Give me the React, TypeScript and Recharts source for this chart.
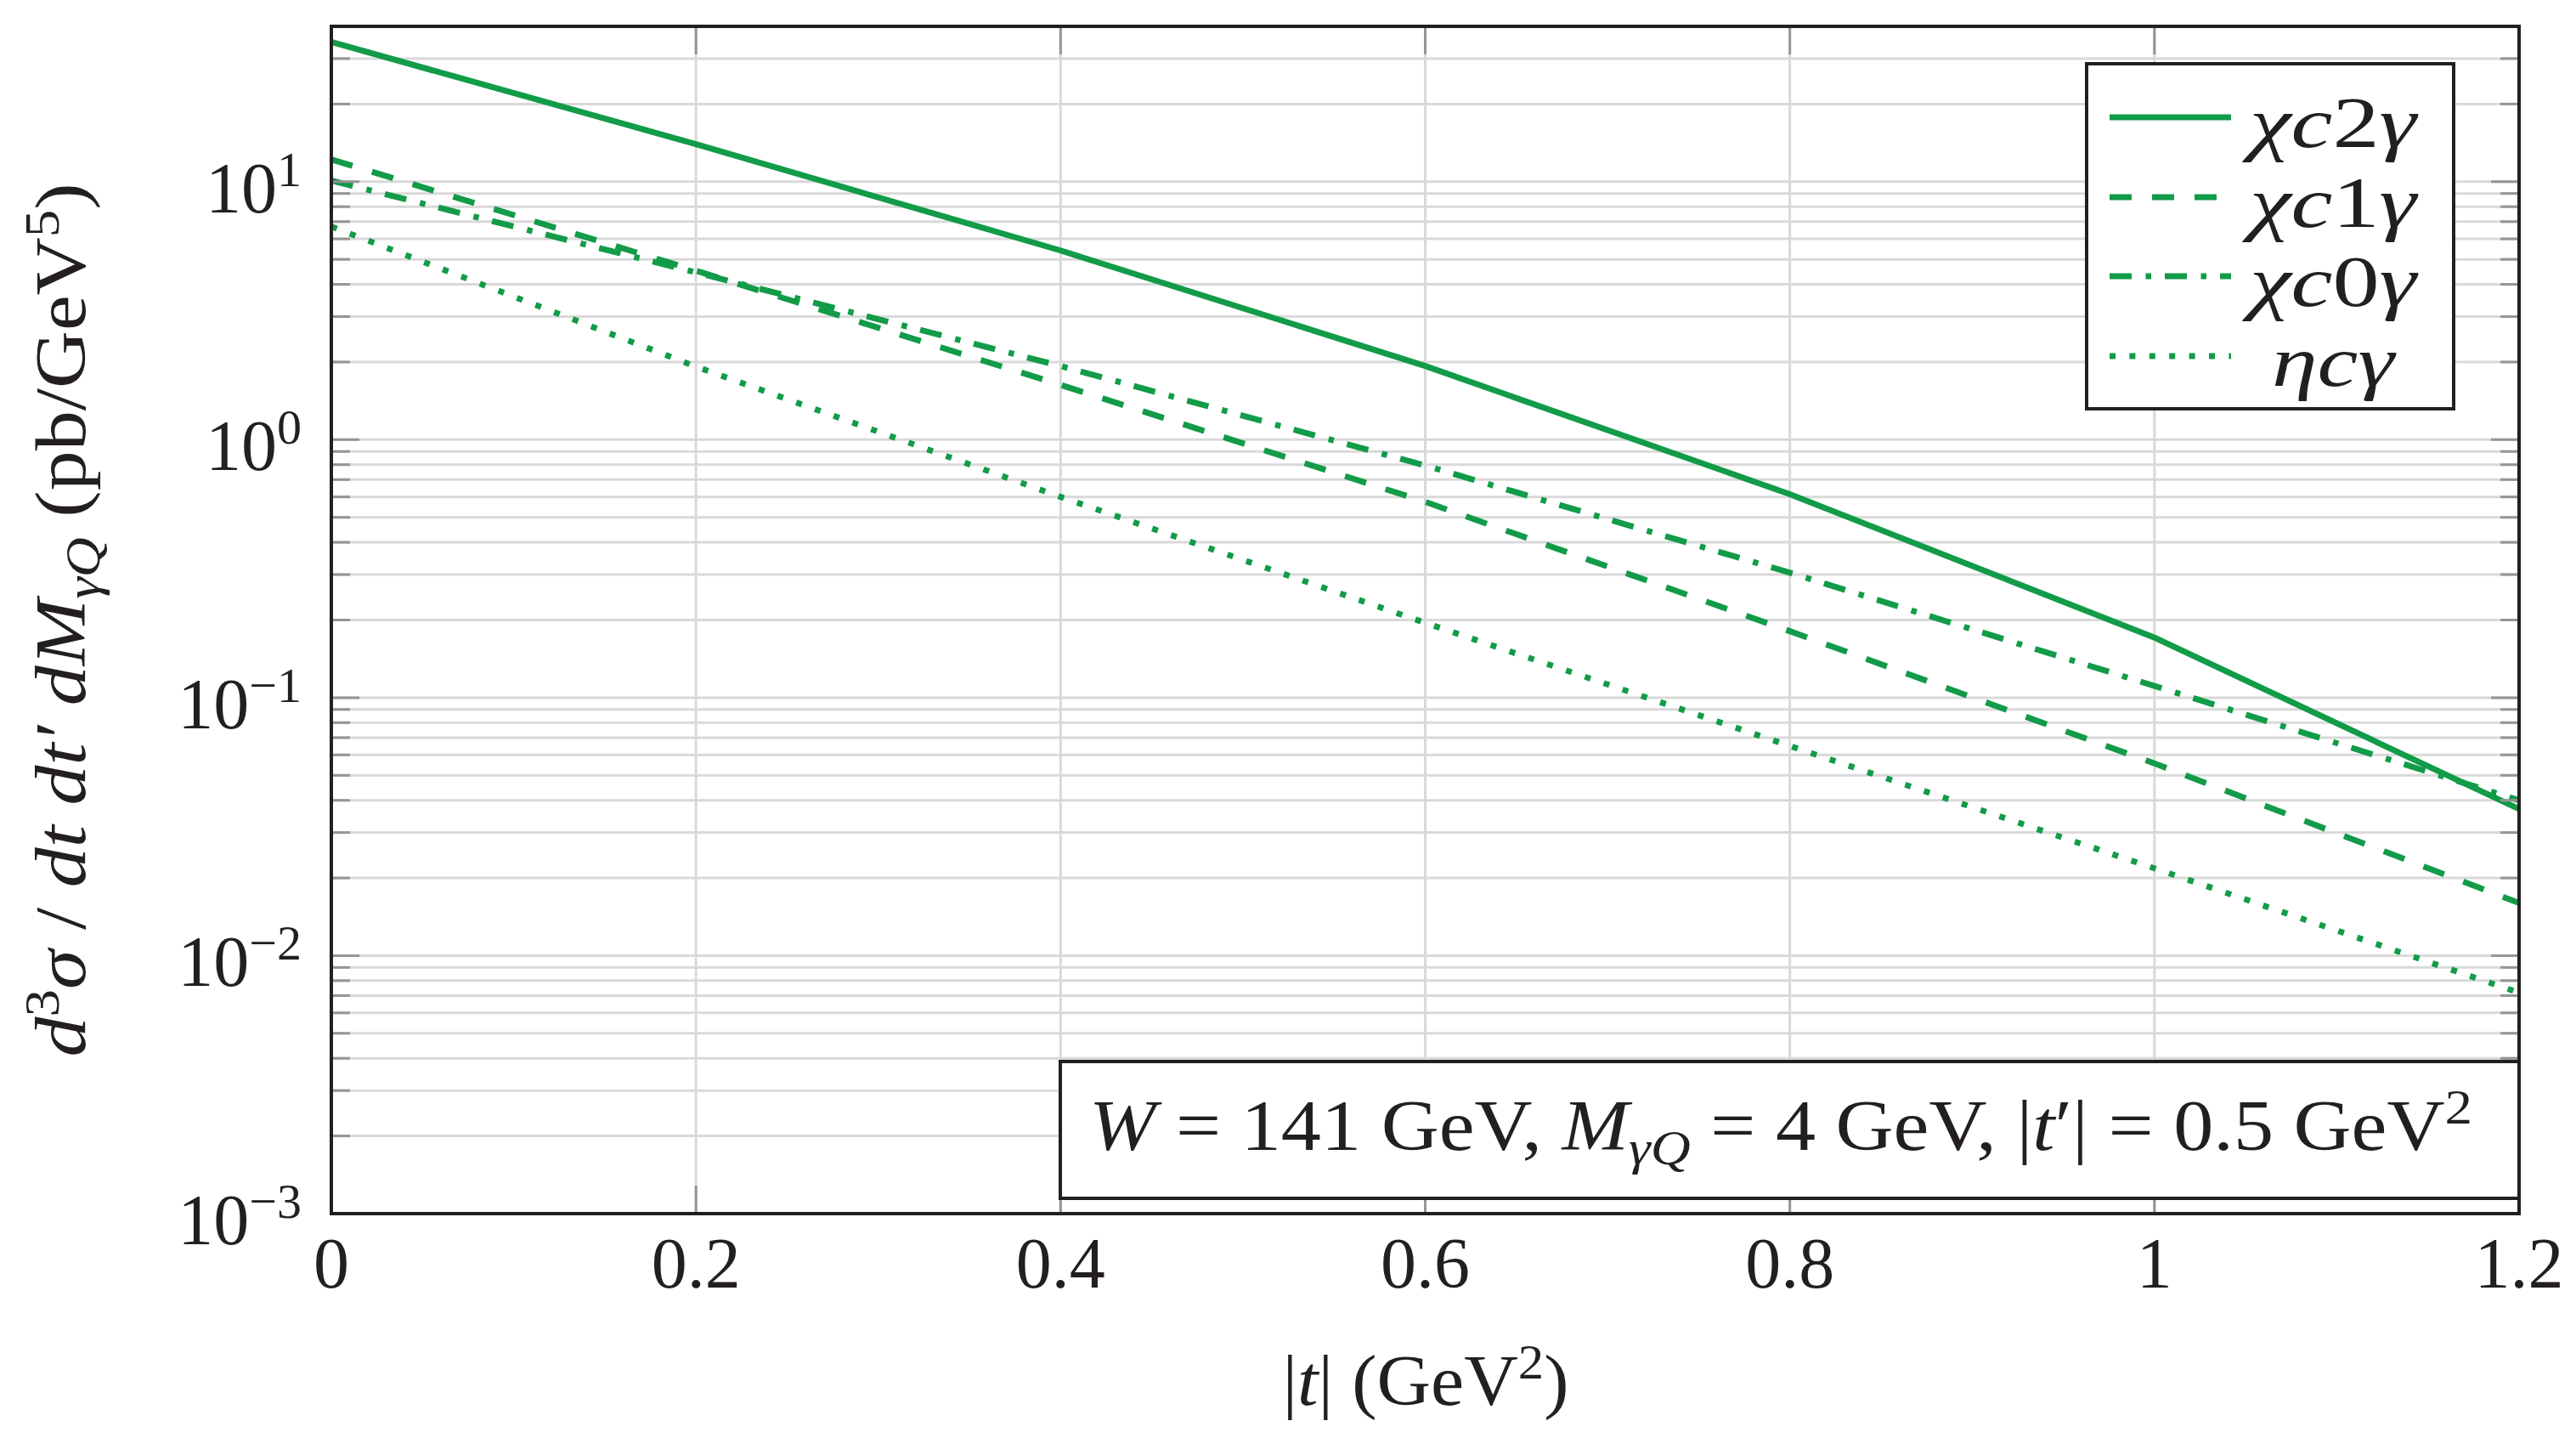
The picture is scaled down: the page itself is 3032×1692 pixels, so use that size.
import React from 'react';
import { LineChart, Line, XAxis, YAxis, CartesianGrid, Legend } from 'recharts';

// |t| sample points (GeV^2)
const tValues = [0, 0.2, 0.4, 0.6, 0.8, 1.0, 1.2];

// d^3 sigma / dt dt' dM_{gamma Q}  (pb/GeV^5)
const chiC2Gamma = [34.8, 13.97, 5.41, 1.93, 0.615, 0.171, 0.037];
const chiC1Gamma = [12.2, 4.52, 1.63, 0.574, 0.181, 0.0556, 0.016];
const chiC0Gamma = [10.1, 4.45, 1.93, 0.794, 0.305, 0.111, 0.04];
const etaCGamma = [6.7, 1.92, 0.6, 0.195, 0.065, 0.0218, 0.00718];

// axis ticks
const xTickValues = [0, 0.2, 0.4, 0.6, 0.8, 1, 1.2];
const yTickValues = [
  0.001, 0.002, 0.003, 0.004, 0.005, 0.006, 0.007, 0.008, 0.009,
  0.01, 0.02, 0.03, 0.04, 0.05, 0.06, 0.07, 0.08, 0.09,
  0.1, 0.2, 0.3, 0.4, 0.5, 0.6, 0.7, 0.8, 0.9,
  1, 2, 3, 4, 5, 6, 7, 8, 9,
  10, 20, 30,
];
const yDomain = [0.001, 40];

const rows = tValues.map((t, i) => ({
  t,
  chiC2: chiC2Gamma[i],
  chiC1: chiC1Gamma[i],
  chiC0: chiC0Gamma[i],
  etaC: etaCGamma[i],
}));

const WIDTH = 3032;
const HEIGHT = 1692;
const PLOT_L = 390;
const PLOT_R = 2965;
const PLOT_T = 31;
const PLOT_B = 1428;
const Y_AXIS_W = 120;
const X_AXIS_H = 120;

const GREEN = '#129b48';
const INK = '#231f20';
const GRID = '#d9d9d9';
const TICK = '#959595';
const FONT = '"Liberation Serif", "DejaVu Serif", serif';
const FS = 84;
const FS_SMALL = 58;

type SeriesDef = { key: string; dash?: string; label: React.ReactNode; labelLen: number };

const series: SeriesDef[] = [
  {
    key: 'chiC2',
    label: (<><tspan fontStyle="italic">χc</tspan><tspan>2</tspan><tspan fontStyle="italic">γ</tspan></>),
    labelLen: 196,
  },
  {
    key: 'chiC1',
    dash: '26 24',
    label: (<><tspan fontStyle="italic">χc</tspan><tspan>1</tspan><tspan fontStyle="italic">γ</tspan></>),
    labelLen: 196,
  },
  {
    key: 'chiC0',
    dash: '26 16.5 6.5 16',
    label: (<><tspan fontStyle="italic">χc</tspan><tspan>0</tspan><tspan fontStyle="italic">γ</tspan></>),
    labelLen: 196,
  },
  {
    key: 'etaC',
    dash: '7 16.4',
    label: (<><tspan fontStyle="italic">ηcγ</tspan></>),
    labelLen: 144,
  },
];

const YTick = (props: any) => {
  const { y, payload } = props;
  const v = payload.value as number;
  const lg = Math.log10(v);
  const exp = Math.round(lg);
  const major = Math.abs(lg - exp) < 1e-6;
  const len = major ? 33 : 22;
  const expText = exp < 0 ? `−${Math.abs(exp)}` : `${exp}`;
  return (
    <g>
      <line x1={PLOT_L} x2={PLOT_L + len} y1={y} y2={y} stroke={TICK} strokeWidth={3} />
      <line x1={PLOT_R - len} x2={PLOT_R} y1={y} y2={y} stroke={TICK} strokeWidth={3} />
      {major && (
        <text x={PLOT_L - 35} y={y + 36} textAnchor="end" fontFamily={FONT} fontSize={FS} fill={INK}>
          10
          <tspan dy={-31} fontSize={FS_SMALL}>{expText}</tspan>
        </text>
      )}
    </g>
  );
};

const XTick = (props: any) => {
  const { x, payload } = props;
  return (
    <g>
      <line x1={x} x2={x} y1={PLOT_B} y2={PLOT_B - 33} stroke={TICK} strokeWidth={3} />
      <line x1={x} x2={x} y1={PLOT_T} y2={PLOT_T + 33} stroke={TICK} strokeWidth={3} />
      <text x={x} y={PLOT_B + 87} textAnchor="middle" fontFamily={FONT} fontSize={FS} fill={INK}>
        {String(payload.value)}
      </text>
    </g>
  );
};

const LegendBox = () => {
  const rowY = [61, 155, 248, 342];
  return (
    <div
      style={{
        width: 436,
        height: 410,
        boxSizing: 'border-box',
        border: `4px solid ${INK}`,
        background: '#fff',
      }}
    >
      <svg width={428} height={402} style={{ display: 'block' }}>
        {series.map((s, i) => (
          <g key={s.key}>
            <line
              x1={25}
              x2={168}
              y1={rowY[i]}
              y2={rowY[i]}
              stroke={GREEN}
              strokeWidth={7}
              strokeDasharray={s.dash}
            />
            <text
              x={288}
              y={rowY[i] + 35}
              textAnchor="middle"
              fontFamily={FONT}
              fontSize={FS}
              fill={INK}
              textLength={s.labelLen}
              lengthAdjust="spacingAndGlyphs"
            >
              {s.label}
            </text>
          </g>
        ))}
      </svg>
    </div>
  );
};

export default function App() {
  return (
    <div style={{ position: 'absolute', left: 0, top: 0, width: WIDTH, height: HEIGHT, background: '#fff' }}>
      <LineChart
        width={WIDTH}
        height={HEIGHT}
        data={rows}
        margin={{
          top: PLOT_T,
          right: WIDTH - PLOT_R,
          bottom: HEIGHT - PLOT_B - X_AXIS_H,
          left: PLOT_L - Y_AXIS_W,
        }}
      >
        <CartesianGrid stroke={GRID} strokeWidth={3} />
        <XAxis
          dataKey="t"
          type="number"
          domain={[0, 1.2]}
          ticks={xTickValues}
          interval={0}
          height={X_AXIS_H}
          tickSize={0}
          tickMargin={0}
          axisLine={false}
          tickLine={false}
          tick={<XTick />}
        />
        <YAxis
          type="number"
          scale="log"
          domain={yDomain}
          allowDataOverflow
          ticks={yTickValues}
          interval={0}
          width={Y_AXIS_W}
          tickSize={0}
          tickMargin={0}
          axisLine={false}
          tickLine={false}
          tick={<YTick />}
        />
        {series.map((s) => (
          <Line
            key={s.key}
            dataKey={s.key}
            type="linear"
            stroke={GREEN}
            strokeWidth={7}
            strokeDasharray={s.dash}
            dot={false}
            activeDot={false}
            isAnimationActive={false}
          />
        ))}
        <Legend
          layout="horizontal"
          align="center"
          verticalAlign="middle"
          wrapperStyle={{ left: 2454, top: 73, width: 436, height: 410 }}
          content={<LegendBox />}
        />
      </LineChart>

      <svg
        width={WIDTH}
        height={HEIGHT}
        style={{ position: 'absolute', left: 0, top: 0, pointerEvents: 'none' }}
      >
        {/* note box with the kinematics */}
        <rect x={1248} y={1249} width={PLOT_R - 1248} height={161} fill="#fff" stroke={INK} strokeWidth={4} />
        <text
          x={2096}
          y={1353}
          textAnchor="middle"
          fontFamily={FONT}
          fontSize={FS}
          fill={INK}
          textLength={1628}
          lengthAdjust="spacingAndGlyphs"
        >
          <tspan fontStyle="italic">W</tspan>
          <tspan> = 141 GeV, </tspan>
          <tspan fontStyle="italic">M</tspan>
          <tspan fontStyle="italic" fontSize={FS_SMALL} dy={17}>γQ</tspan>
          <tspan dy={-17}> = 4 GeV, |</tspan>
          <tspan fontStyle="italic">t</tspan>
          <tspan>′| = 0.5 GeV</tspan>
          <tspan fontSize={FS_SMALL} dy={-31}>2</tspan>
        </text>

        {/* plot frame */}
        <rect
          x={PLOT_L}
          y={PLOT_T}
          width={PLOT_R - PLOT_L}
          height={PLOT_B - PLOT_T}
          fill="none"
          stroke={INK}
          strokeWidth={4}
        />

        {/* x axis title */}
        <text
          x={1678}
          y={1653}
          textAnchor="middle"
          fontFamily={FONT}
          fontSize={FS}
          fill={INK}
          textLength={337}
          lengthAdjust="spacingAndGlyphs"
        >
          <tspan>|</tspan>
          <tspan fontStyle="italic">t</tspan>
          <tspan>| (GeV</tspan>
          <tspan fontSize={FS_SMALL} dy={-31}>2</tspan>
          <tspan dy={31}>)</tspan>
        </text>

        {/* y axis title */}
        <text
          x={0}
          y={0}
          transform={`translate(100, 729.5) rotate(-90)`}
          textAnchor="middle"
          fontFamily={FONT}
          fontSize={FS}
          fill={INK}
          textLength={1028}
          lengthAdjust="spacingAndGlyphs"
        >
          <tspan fontStyle="italic">d</tspan>
          <tspan fontSize={FS_SMALL} dy={-31}>3</tspan>
          <tspan fontStyle="italic" dy={31}>σ</tspan>
          <tspan> / </tspan>
          <tspan fontStyle="italic">dt dt′ dM</tspan>
          <tspan fontStyle="italic" fontSize={FS_SMALL} dy={17}>γQ</tspan>
          <tspan dy={-17}> (pb/GeV</tspan>
          <tspan fontSize={FS_SMALL} dy={-31}>5</tspan>
          <tspan dy={31}>)</tspan>
        </text>
      </svg>
    </div>
  );
}
